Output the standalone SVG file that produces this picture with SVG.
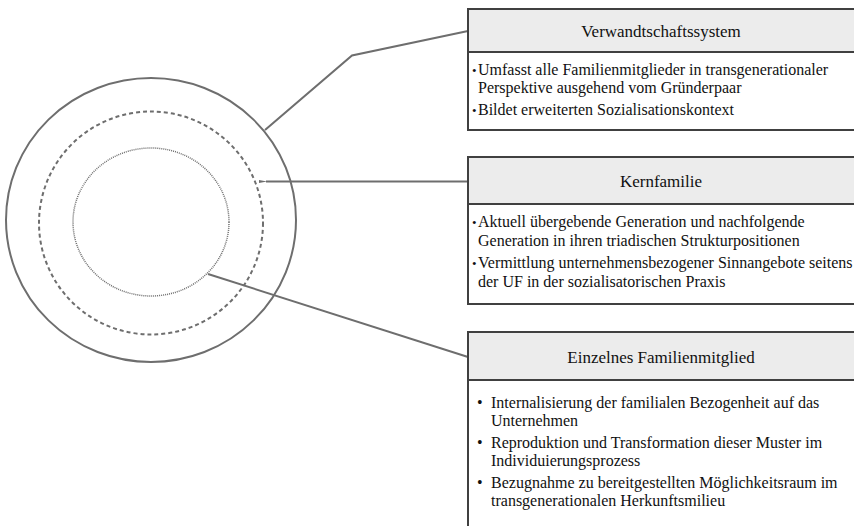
<svg xmlns="http://www.w3.org/2000/svg" width="854" height="526" viewBox="0 0 854 526">
  <defs>
    <style>
      .ring { fill: none; stroke: #6e6e6e; }
      .link { fill: none; stroke: #6e6e6e; stroke-width: 2; }
      .box { fill: #ffffff; stroke: #404040; stroke-width: 2; }
      .head { fill: #ececec; stroke: #404040; stroke-width: 2; }
      .title { font-family: "Liberation Serif", "Times New Roman", serif; font-size: 17px; fill: #111111; text-anchor: middle; }
      .body { font-family: "Liberation Serif", "Times New Roman", serif; font-size: 16px; fill: #111111; }
      .dot { font-family: "Liberation Serif", "Times New Roman", serif; font-size: 13px; fill: #111111; }
    </style>
    <marker id="tip" markerWidth="8" markerHeight="6" refX="1" refY="3" orient="auto-start-reverse" markerUnits="userSpaceOnUse">
      <path d="M8,1.5 L0,3 L8,4.5 Z" fill="#6e6e6e"/>
    </marker>
  </defs>

  <!-- concentric rings -->
  <g id="rings">
    <ellipse class="ring" cx="151" cy="220" rx="145" ry="142" stroke-width="2"/>
    <ellipse class="ring" cx="151" cy="223" rx="112" ry="111.5" stroke-width="2" stroke-dasharray="4 3"/>
    <ellipse class="ring" cx="151" cy="222" rx="78" ry="74" stroke-width="1.5" stroke-dasharray="1 1"/>
  </g>

  <!-- connectors -->
  <g id="connectors">
    <polyline class="link" points="265,130 352,55.5 468,31"/>
    <line class="link" x1="266" y1="181.5" x2="468" y2="181.5" marker-start="url(#tip)"/>
    <line class="link" x1="208" y1="274" x2="468" y2="357"/>
  </g>

  <!-- Verwandtschaftssystem -->
  <g id="node-verwandtschaftssystem">
    <rect class="box" x="468" y="9" width="400" height="121"/>
    <rect class="head" x="468" y="9" width="400" height="43"/>
    <text class="title" x="661" y="37">Verwandtschaftssystem</text>
    <text class="dot" x="472" y="75">•</text>
    <text class="body" x="478" y="75">Umfasst alle Familienmitglieder in transgenerationaler</text>
    <text class="body" x="478" y="93">Perspektive ausgehend vom Gründerpaar</text>
    <text class="dot" x="472" y="115">•</text>
    <text class="body" x="478" y="115">Bildet erweiterten Sozialisationskontext</text>
  </g>

  <!-- Kernfamilie -->
  <g id="node-kernfamilie">
    <rect class="box" x="468" y="157" width="400" height="147"/>
    <rect class="head" x="468" y="157" width="400" height="47"/>
    <text class="title" x="661" y="187">Kernfamilie</text>
    <text class="dot" x="472" y="227">•</text>
    <text class="body" x="478" y="227">Aktuell übergebende Generation und nachfolgende</text>
    <text class="body" x="478" y="246">Generation in ihren triadischen Strukturpositionen</text>
    <text class="dot" x="472" y="268">•</text>
    <text class="body" x="478" y="268">Vermittlung unternehmensbezogener Sinnangebote seitens</text>
    <text class="body" x="478" y="287">der UF in der sozialisatorischen Praxis</text>
  </g>

  <!-- Einzelnes Familienmitglied -->
  <g id="node-einzelnes-familienmitglied">
    <rect class="box" x="468" y="332" width="400" height="210"/>
    <rect class="head" x="468" y="332" width="400" height="48"/>
    <text class="title" x="661" y="363">Einzelnes Familienmitglied</text>
    <text class="body" x="477" y="408">•</text>
    <text class="body" x="491" y="408">Internalisierung der familialen Bezogenheit auf das</text>
    <text class="body" x="491" y="426">Unternehmen</text>
    <text class="body" x="477" y="448">•</text>
    <text class="body" x="491" y="448">Reproduktion und Transformation dieser Muster im</text>
    <text class="body" x="491" y="466">Individuierungsprozess</text>
    <text class="body" x="477" y="488">•</text>
    <text class="body" x="491" y="488">Bezugnahme zu bereitgestellten Möglichkeitsraum im</text>
    <text class="body" x="491" y="506">transgenerationalen Herkunftsmilieu</text>
  </g>
</svg>
